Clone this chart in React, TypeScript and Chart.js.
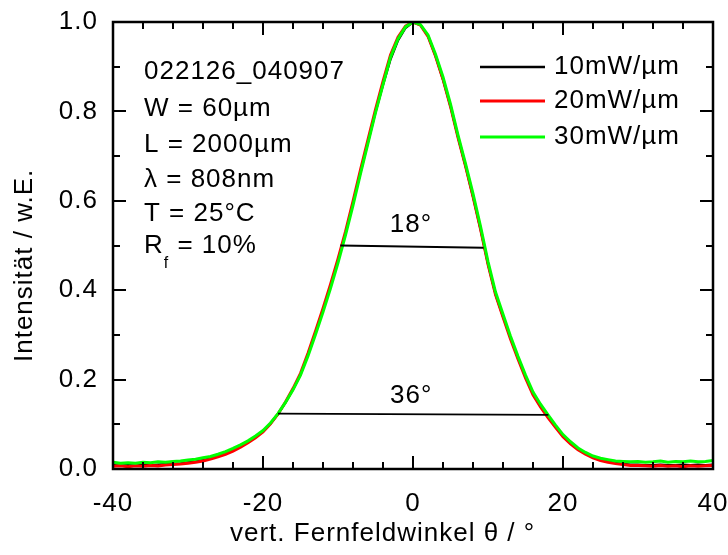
import React, { useEffect, useRef } from "react";
import { Chart, registerables } from "chart.js";

Chart.register(...registerables);

// ---- data ----
const angles = [
  -40, -39, -38, -37, -36, -35, -34, -33, -32, -31,
  -30, -29, -28, -27, -26, -25, -24, -23, -22, -21,
  -20, -19, -18, -17, -16, -15, -14, -13, -12, -11,
  -10, -9, -8, -7, -6, -5, -4, -3, -2, -1,
  0,
  1, 2, 3, 4, 5, 6, 7, 8, 9, 10,
  11, 12, 13, 14, 15, 16, 17, 18, 19, 20,
  21, 22, 23, 24, 25, 26, 27, 28, 29, 30,
  31, 32, 33, 34, 35, 36, 37, 38, 39, 40,
];

const p10 = [
  0.009, 0.008, 0.009, 0.008, 0.010, 0.009, 0.010, 0.011, 0.012, 0.013,
  0.015, 0.017, 0.020, 0.024, 0.029, 0.035, 0.042, 0.051, 0.060, 0.071,
  0.084, 0.101, 0.122, 0.148, 0.177, 0.211, 0.255, 0.303, 0.354, 0.408,
  0.465, 0.525, 0.593, 0.662, 0.730, 0.797, 0.858, 0.915, 0.958, 0.986,
  0.999,
  0.993, 0.968, 0.923, 0.870, 0.810, 0.741, 0.676, 0.608, 0.535, 0.457,
  0.390, 0.340, 0.292, 0.247, 0.205, 0.167, 0.140, 0.116, 0.094, 0.074,
  0.058, 0.045, 0.035, 0.027, 0.021, 0.017, 0.014, 0.012, 0.010, 0.010,
  0.009, 0.009, 0.010, 0.009, 0.009, 0.010, 0.009, 0.010, 0.009, 0.010,
];

const p20 = [
  0.006, 0.007, 0.005, 0.007, 0.006, 0.008, 0.007, 0.009, 0.010, 0.011,
  0.013, 0.015, 0.018, 0.022, 0.027, 0.033, 0.040, 0.049, 0.059, 0.070,
  0.083, 0.101, 0.123, 0.150, 0.180, 0.214, 0.259, 0.308, 0.359, 0.413,
  0.470, 0.531, 0.599, 0.669, 0.737, 0.804, 0.867, 0.926, 0.966, 0.991,
  1.000,
  0.993, 0.968, 0.924, 0.872, 0.811, 0.742, 0.678, 0.610, 0.537, 0.458,
  0.390, 0.340, 0.291, 0.246, 0.204, 0.166, 0.139, 0.115, 0.093, 0.072,
  0.056, 0.043, 0.033, 0.025, 0.019, 0.015, 0.012, 0.010, 0.008, 0.008,
  0.007, 0.006, 0.008, 0.006, 0.007, 0.005, 0.007, 0.006, 0.007, 0.008,
];

const p30 = [
  0.015, 0.013, 0.014, 0.013, 0.015, 0.014, 0.016, 0.015, 0.017, 0.018,
  0.020, 0.022, 0.025, 0.028, 0.033, 0.039, 0.046, 0.054, 0.063, 0.074,
  0.086, 0.103, 0.124, 0.149, 0.177, 0.210, 0.253, 0.301, 0.351, 0.404,
  0.461, 0.523, 0.590, 0.661, 0.729, 0.797, 0.860, 0.921, 0.962, 0.989,
  1.000,
  0.994, 0.971, 0.928, 0.877, 0.816, 0.747, 0.683, 0.616, 0.543, 0.464,
  0.396, 0.346, 0.297, 0.252, 0.210, 0.172, 0.145, 0.121, 0.098, 0.077,
  0.061, 0.047, 0.037, 0.029, 0.024, 0.021, 0.018, 0.017, 0.016, 0.017,
  0.015, 0.016, 0.018, 0.015, 0.017, 0.016, 0.018, 0.016, 0.017, 0.019,
];

const seriesLabels = ["10mW/µm", "20mW/µm", "30mW/µm"];
const seriesColors = ["#000000", "#ff0000", "#00ff00"];

// width markers (full width at half maximum, and at ~1/8)
const fwhmX = [-9.7, 9.4];
const fwhmY = [0.5, 0.495];
const fwhmLabel = "18°";
const fw2X = [-18.0, 18.05];
const fw2Y = [0.124, 0.121];
const fw2Label = "36°";

const infoLines = ["022126_040907", "W = 60µm", "L = 2000µm", "λ = 808nm", "T = 25°C"];
const xTitle = "vert. Fernfeldwinkel θ / °";
const yTitle = "Intensität / w.E.";

const X_MIN = -40;
const X_MAX = 40;
const X_STEP = 20;
const X_MINOR = 4;
const Y_MIN = 0;
const Y_MAX = 1;
const Y_STEP = 0.2;
const Y_MINOR = 0.1;

const FONT = "'Liberation Sans', Arial, Helvetica, sans-serif";
const FS = 26;
const SPACING = "1px";

function pts(xs: number[], ys: number[]) {
  return xs.map((x, i) => ({ x, y: ys[i] }));
}

const decorPlugin = {
  id: "decor",
  beforeDraw(chart: any) {
    chart.ctx.letterSpacing = SPACING;
  },
  afterDraw(chart: any) {
    const { ctx, chartArea: a, scales } = chart;
    const x = scales.x;
    const y = scales.y;
    ctx.save();
    ctx.strokeStyle = "#000";
    ctx.fillStyle = "#000";
    ctx.lineCap = "butt";

    // ticks (inward, all four sides)
    ctx.lineWidth = 2;
    ctx.beginPath();
    for (let v = X_MIN; v <= X_MAX + 1e-9; v += X_MINOR) {
      const px = Math.round(x.getPixelForValue(v));
      const major = Math.abs(v % X_STEP) < 1e-9;
      const len = major ? 13 : 7;
      ctx.moveTo(px, a.bottom);
      ctx.lineTo(px, a.bottom - len);
      ctx.moveTo(px, a.top);
      ctx.lineTo(px, a.top + len);
    }
    for (let k = 0; k <= Math.round((Y_MAX - Y_MIN) / Y_MINOR); k++) {
      const v = Y_MIN + k * Y_MINOR;
      const py = Math.round(y.getPixelForValue(v));
      const major = k % Math.round(Y_STEP / Y_MINOR) === 0;
      const len = major ? 13 : 7;
      ctx.moveTo(a.left, py);
      ctx.lineTo(a.left + len, py);
      ctx.moveTo(a.right, py);
      ctx.lineTo(a.right - len, py);
    }
    ctx.stroke();

    // frame
    ctx.lineWidth = 2.5;
    ctx.strokeRect(a.left, a.top, a.right - a.left, a.bottom - a.top);

    // info text
    ctx.font = `${FS}px ${FONT}`;
    ctx.textAlign = "left";
    ctx.textBaseline = "middle";
    const infoY = [72, 109, 145, 180, 214];
    infoLines.forEach((t, i) => ctx.fillText(t, 144, infoY[i]));
    // R_f = 10%
    ctx.fillText("R", 144, 246);
    const rw = ctx.measureText("R").width;
    ctx.font = `${Math.round(FS * 0.62)}px ${FONT}`;
    ctx.fillText("f", 144 + rw, 264);
    const fw = ctx.measureText("f").width;
    ctx.font = `${FS}px ${FONT}`;
    ctx.fillText(" = 10%", 144 + rw + fw, 246);

    // width labels
    ctx.textAlign = "center";
    ctx.fillText(fwhmLabel, x.getPixelForValue((fwhmX[0] + fwhmX[1]) / 2) - 1, 225);
    ctx.fillText(fw2Label, x.getPixelForValue((fw2X[0] + fw2X[1]) / 2) - 2, 396);

    // legend
    const legY = [67, 101, 137];
    seriesLabels.forEach((lab, i) => {
      ctx.strokeStyle = seriesColors[i];
      ctx.lineWidth = i === 0 ? 2.5 : 3;
      ctx.beginPath();
      ctx.moveTo(480, legY[i]);
      ctx.lineTo(545, legY[i]);
      ctx.stroke();
      ctx.textAlign = "left";
      ctx.fillStyle = "#000";
      ctx.fillText(lab, 554, legY[i]);
    });

    // axis titles
    ctx.textBaseline = "alphabetic";
    ctx.textAlign = "left";
    ctx.fillText(xTitle, 230, 541);
    ctx.save();
    ctx.translate(32, 362);
    ctx.rotate(-Math.PI / 2);
    ctx.fillText(yTitle, 0, 0);
    ctx.restore();

    ctx.restore();
    ctx.letterSpacing = "0px";
  },
};

export default function App() {
  const ref = useRef<HTMLCanvasElement | null>(null);

  useEffect(() => {
    if (!ref.current) return;
    const chart = new Chart(ref.current, {
      type: "line",
      data: {
        datasets: [
          {
            label: seriesLabels[0],
            data: pts(angles, p10),
            borderColor: seriesColors[0],
            borderWidth: 2,
            pointRadius: 0,
            tension: 0,
            order: 3,
          },
          {
            label: seriesLabels[1],
            data: pts(angles, p20),
            borderColor: seriesColors[1],
            borderWidth: 3,
            pointRadius: 0,
            tension: 0,
            order: 2,
          },
          {
            label: seriesLabels[2],
            data: pts(angles, p30),
            borderColor: seriesColors[2],
            borderWidth: 3,
            pointRadius: 0,
            tension: 0,
            order: 1,
          },
          {
            label: fwhmLabel,
            data: pts(fwhmX, fwhmY),
            borderColor: "#000",
            borderWidth: 1.8,
            pointRadius: 0,
            order: 0,
          },
          {
            label: fw2Label,
            data: pts(fw2X, fw2Y),
            borderColor: "#000",
            borderWidth: 1.8,
            pointRadius: 0,
            order: 0,
          },
        ],
      },
      options: {
        animation: false,
        responsive: false,
        maintainAspectRatio: false,
        devicePixelRatio: 1,
        layout: { padding: { top: 22, right: 15, left: 0, bottom: 0 } },
        plugins: {
          legend: { display: false },
          tooltip: { enabled: false },
        },
        scales: {
          x: {
            type: "linear",
            min: X_MIN,
            max: X_MAX,
            grid: { display: false, drawTicks: false },
            border: { display: false },
            ticks: {
              stepSize: X_STEP,
              autoSkip: false,
              maxRotation: 0,
              color: "#000",
              padding: 19,
              font: { size: FS, family: FONT },
            },
            afterFit(s: any) {
              s.height = 86;
              s.paddingLeft = 0;
              s.paddingRight = 0;
            },
          },
          y: {
            type: "linear",
            min: Y_MIN,
            max: Y_MAX,
            grid: { display: false, drawTicks: false },
            border: { display: false },
            ticks: {
              stepSize: Y_STEP,
              autoSkip: false,
              color: "#000",
              padding: 15,
              font: { size: FS, family: FONT },
              callback: (v: any) => Number(v).toFixed(1),
            },
            afterFit(s: any) {
              s.width = 113;
              s.paddingTop = 0;
              s.paddingBottom = 0;
            },
          },
        },
      },
      plugins: [decorPlugin],
    });
    return () => chart.destroy();
  }, []);

  return (
    <div style={{ position: "absolute", left: 0, top: 0, width: 728, height: 555, background: "#fff" }}>
      <canvas ref={ref} width={728} height={555} style={{ display: "block", width: 728, height: 555 }} />
    </div>
  );
}
